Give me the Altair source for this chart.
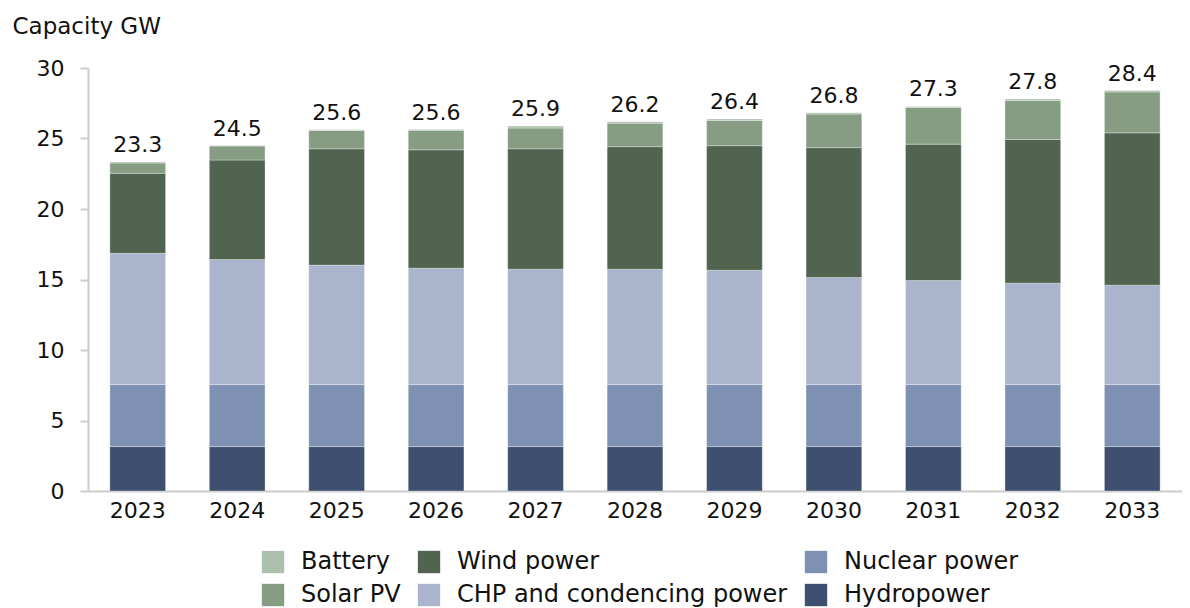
import altair as alt
import pandas as pd

years = ["2023", "2024", "2025", "2026", "2027", "2028", "2029", "2030", "2031", "2032", "2033"]

hydropower = [3.15, 3.15, 3.15, 3.15, 3.15, 3.15, 3.15, 3.15, 3.15, 3.15, 3.15]
nuclear = [4.40, 4.40, 4.40, 4.40, 4.40, 4.40, 4.40, 4.40, 4.40, 4.40, 4.40]
chp = [9.31, 8.87, 8.47, 8.25, 8.18, 8.18, 8.11, 7.59, 7.38, 7.19, 7.05]
wind = [5.67, 7.05, 8.25, 8.40, 8.54, 8.69, 8.83, 9.21, 9.67, 10.19, 10.80]
solar = [0.73, 0.99, 1.30, 1.38, 1.47, 1.67, 1.79, 2.38, 2.60, 2.77, 2.90]
battery = [0.07, 0.04, 0.05, 0.05, 0.14, 0.10, 0.10, 0.09, 0.07, 0.10, 0.10]

# stacking order bottom -> top
stack_names = ["Hydropower", "Nuclear power", "CHP and condencing power", "Wind power", "Solar PV", "Battery"]
stack_values = [hydropower, nuclear, chp, wind, solar, battery]

# legend order (row-major, 3 columns)
legend_names = ["Battery", "Wind power", "Nuclear power", "Solar PV", "CHP and condencing power", "Hydropower"]
legend_colors = ["#adc0ad", "#506450", "#7f91b3", "#869d84", "#aab5cd", "#3e4f6f"]

rows = []
for k, (name, vals) in enumerate(zip(stack_names, stack_values)):
    for y, v in zip(years, vals):
        rows.append({"year": y, "series": name, "value": v, "order": k})
df = pd.DataFrame(rows)

FONT = "DejaVu Sans"

base = alt.Chart(df)

bars = base.mark_bar(stroke="white", strokeWidth=0.6, strokeOpacity=0.5).encode(
    x=alt.X("year:N", sort=years,
            scale=alt.Scale(paddingInner=0.44, paddingOuter=0.22),
            axis=alt.Axis(title=None, labelAngle=0, ticks=False, labelPadding=9,
                          labelFontSize=22, labelFont=FONT, labelColor="#111111",
                          domainColor="#cccccc", domainWidth=2)),
    y=alt.Y("value:Q", stack="zero",
            scale=alt.Scale(domain=[0, 30], nice=False),
            axis=alt.Axis(values=[0, 5, 10, 15, 20, 25, 30], grid=False,
                          tickSize=8, tickColor="#cccccc", tickWidth=2,
                          domainColor="#cccccc", domainWidth=2,
                          labelFontSize=22, labelFont=FONT, labelColor="#111111",
                          labelPadding=16,
                          title="Capacity GW", titleAngle=0, titleAlign="left",
                          titleBaseline="alphabetic", titleX=-76, titleY=-35,
                          titleFontSize=23, titleFont=FONT, titleFontWeight="normal",
                          titleColor="#111111")),
    color=alt.Color("series:N",
                    scale=alt.Scale(domain=legend_names, range=legend_colors),
                    legend=alt.Legend(orient="none", legendX=173, legendY=482,
                                      columns=3, direction="horizontal",
                                      symbolType="square", symbolSize=500,
                                      symbolStrokeWidth=0, labelFontSize=24,
                                      labelFont=FONT, labelColor="#111111",
                                      labelOffset=16, columnPadding=16, rowPadding=9,
                                      title=None, padding=0, labelLimit=600)),
    order=alt.Order("order:Q", sort="ascending"),
)

totals = base.transform_aggregate(
    total="sum(value)", groupby=["year"]
).mark_text(dy=-10, baseline="alphabetic", fontSize=22, font=FONT, color="#111111").encode(
    x=alt.X("year:N", sort=years),
    y=alt.Y("total:Q"),
    text=alt.Text("total:Q", format=".1f"),
)

chart = alt.layer(bars, totals).properties(
    width=1094, height=423,
    padding={"left": 4, "top": 7, "right": 0, "bottom": 0},
).configure_view(stroke=None)

chart.save("out.html", embed_options={"renderer": "svg", "actions": False})
